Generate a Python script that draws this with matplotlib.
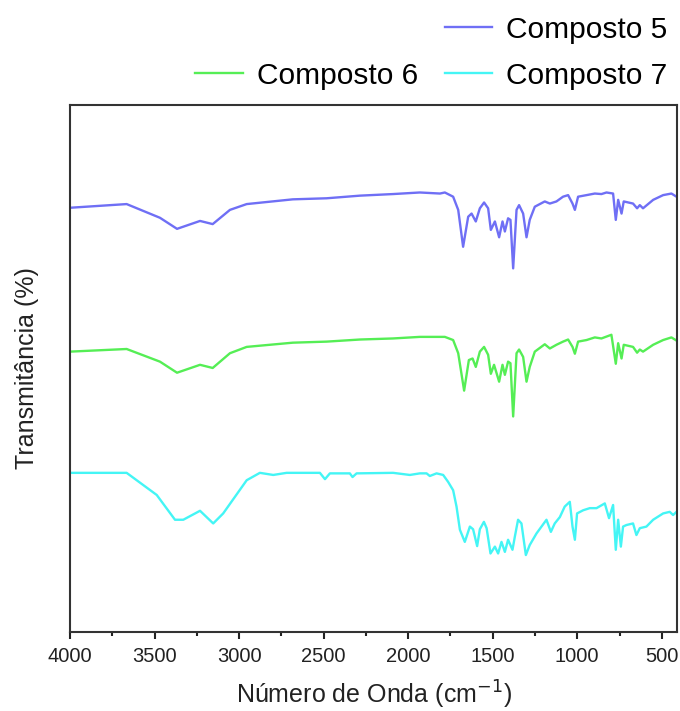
import matplotlib
matplotlib.use("Agg")
import matplotlib.pyplot as plt
from matplotlib.lines import Line2D
from matplotlib.ticker import MultipleLocator

plt.rcParams['font.family'] = ['Liberation Sans', 'DejaVu Sans']

# Composto 5 (blue)
wn5 = [4000, 3665, 3468, 3367, 3231, 3156, 3054, 2955, 2682, 2482, 2285, 2090, 1931, 1812,
       1783, 1734, 1704, 1675, 1645, 1625, 1600, 1576, 1551, 1527, 1511, 1487, 1462, 1442,
       1428, 1409, 1395, 1379, 1359, 1344, 1320, 1300, 1281, 1251, 1192, 1162, 1123, 1084,
       1054, 1028, 1014, 995, 945, 896, 857, 827, 788, 772, 758, 738, 725, 670, 646, 630,
       611, 551, 492, 443, 413]
t5 = [80.5, 81.2, 78.6, 76.5, 78.0, 77.4, 80.1, 81.2, 82.1, 82.3, 82.8, 83.1, 83.4, 83.2,
      83.4, 82.6, 80.1, 73.1, 78.8, 79.4, 77.9, 80.4, 81.5, 80.4, 76.3, 77.9, 74.9, 77.9,
      76.0, 78.5, 78.2, 69.0, 80.1, 81.0, 79.4, 74.9, 78.2, 80.7, 81.7, 81.3, 81.7, 82.6,
      82.9, 81.3, 80.1, 82.6, 82.9, 83.2, 83.1, 83.4, 83.2, 78.2, 82.0, 79.4, 81.7, 81.3,
      80.4, 81.0, 80.4, 82.0, 82.9, 83.2, 82.6]

# Composto 6 (green)
wn6 = [4000, 3665, 3468, 3367, 3231, 3156, 3054, 2955, 2682, 2482, 2285, 2090, 1931, 1812,
       1783, 1734, 1704, 1669, 1641, 1619, 1600, 1576, 1551, 1527, 1511, 1492, 1462, 1442,
       1428, 1409, 1395, 1379, 1359, 1344, 1320, 1300, 1281, 1251, 1192, 1162, 1123, 1084,
       1054, 1028, 1014, 995, 945, 896, 857, 798, 772, 758, 738, 725, 670, 646, 630, 611,
       551, 492, 443, 413]
t6 = [53.2, 53.7, 51.3, 49.2, 50.7, 50.1, 52.9, 54.1, 54.9, 55.1, 55.5, 55.7, 56.0, 56.0,
      56.0, 55.4, 52.9, 45.8, 51.6, 51.9, 50.3, 53.2, 54.1, 52.6, 49.0, 50.7, 47.5, 50.7,
      48.8, 51.3, 51.0, 40.9, 52.9, 53.6, 52.2, 47.5, 50.3, 53.2, 54.6, 53.8, 54.5, 55.1,
      55.5, 54.1, 52.8, 55.1, 55.4, 55.9, 55.7, 56.4, 50.9, 54.8, 51.9, 54.5, 54.1, 53.0,
      53.6, 53.2, 54.5, 55.4, 55.9, 55.3]

# Composto 7 (cyan)
wn7 = [4000, 3665, 3487, 3379, 3330, 3231, 3153, 3094, 2955, 2877, 2798, 2719, 2522, 2492,
       2463, 2345, 2329, 2305, 2089, 1990, 1931, 1891, 1872, 1832, 1793, 1764, 1734, 1714,
       1694, 1665, 1635, 1616, 1592, 1576, 1552, 1536, 1513, 1487, 1468, 1448, 1428, 1409,
       1383, 1369, 1350, 1330, 1304, 1281, 1241, 1182, 1156, 1133, 1103, 1074, 1044, 1028,
       1014, 1001, 965, 926, 886, 837, 812, 788, 772, 758, 742, 729, 709, 670, 650, 630,
       591, 551, 492, 453, 433, 413]
t7 = [30.2, 30.2, 26.0, 21.3, 21.3, 23.0, 20.6, 22.5, 28.8, 30.2, 29.8, 30.2, 30.2, 29.0,
      30.1, 30.1, 29.4, 30.1, 30.2, 29.8, 30.1, 30.1, 29.6, 30.1, 29.8, 28.5, 26.9, 23.8,
      19.4, 17.1, 20.0, 19.5, 16.3, 19.5, 20.9, 19.7, 14.9, 16.2, 14.9, 17.1, 15.2, 17.5,
      15.6, 18.1, 21.3, 20.6, 14.6, 16.5, 18.7, 21.3, 19.0, 20.6, 21.8, 23.8, 24.7, 20.0,
      17.5, 22.5, 23.1, 23.5, 23.5, 24.4, 21.6, 24.1, 15.6, 21.3, 16.2, 20.0, 20.3, 20.6,
      18.4, 19.7, 20.0, 21.3, 22.5, 22.8, 22.2, 22.8]

labels = ["Composto 5", "Composto 6", "Composto 7"]
colors = ["#6f6ff5", "#55ee55", "#44f5f5"]

fig = plt.figure(figsize=(6.8, 7.11), dpi=100)
ax = fig.add_axes([70/680, 79/711, 607/680, 527/711])

for wn, t, lab, c in zip([wn5, wn6, wn7], [t5, t6, t7], labels, colors):
    ax.plot(wn, t, color=c, lw=1.7, label=lab)

ax.set_xlim(4000, 410)
ax.set_ylim(0, 100)
ax.set_yticks([])
ax.xaxis.set_major_locator(MultipleLocator(500))
ax.xaxis.set_minor_locator(MultipleLocator(250))
ax.tick_params(axis='x', which='major', direction='out', length=5, width=1.5,
               labelsize=14.5, pad=6, colors='#222222')
ax.tick_params(axis='x', which='minor', direction='out', length=3, width=1.5, colors='#222222')
for s in ax.spines.values():
    s.set_linewidth(1.5)
    s.set_color('#333333')

ax.set_xlabel("Número de Onda (cm$^{-1}$)", fontsize=18, color='#222222', labelpad=9)
ax.set_ylabel("Transmitância (%)", fontsize=18, color='#222222', labelpad=22)

handles, labs = ax.get_legend_handles_labels()
blank = Line2D([], [], alpha=0)
order_h = [blank, handles[1], handles[0], handles[2]]
order_l = ["", labs[1], labs[0], labs[2]]
fig.legend(order_h, order_l, ncol=2, loc='upper right', bbox_to_anchor=(683/680, 1.0),
           frameon=False, fontsize=21.5, handlelength=1.6, handletextpad=0.45,
           columnspacing=0.9, labelspacing=0.6, borderaxespad=0.13)

fig.savefig("out.png", dpi=100)
